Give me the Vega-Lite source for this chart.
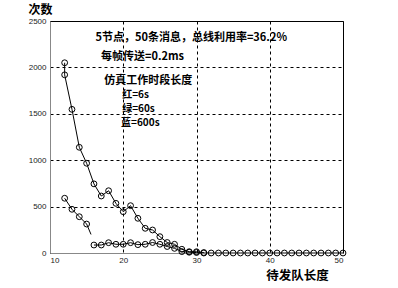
{
"$schema": "https://vega.github.io/schema/vega-lite/v6.json",
"width": 293, "height": 232,
"autosize": {"type": "none"},
"padding": {"left": 50, "top": 21, "right": 55, "bottom": 35},
"background": "white",
"config": {
  "view": {"stroke": "black", "strokeWidth": 1},
  "axis": {"labelFont": "Liberation Sans", "labelFontSize": 8, "labelColor": "#222", "ticks": false, "domainColor": "#888", "grid": true, "gridColor": "#000", "gridDash": [3, 3], "gridWidth": 1, "gridOpacity": 1,
    "titleFont": "Noto Sans CJK SC", "titleFontWeight": "bold", "titleColor": "#000", "format": "d"}
},
"datasets": {
  "series": [
    {"g": "A", "seq": 1, "x": 12, "y": 2050}, {"g": "A", "seq": 2, "x": 12, "y": 1920}, {"g": "A", "seq": 3, "x": 13, "y": 1548},
    {"g": "A", "seq": 4, "x": 14, "y": 1139}, {"g": "A", "seq": 5, "x": 15, "y": 967}, {"g": "A", "seq": 6, "x": 16, "y": 745},
    {"g": "A", "seq": 7, "x": 17, "y": 614}, {"g": "A", "seq": 8, "x": 18, "y": 671}, {"g": "A", "seq": 9, "x": 19, "y": 535},
    {"g": "A", "seq": 10, "x": 20, "y": 445}, {"g": "A", "seq": 11, "x": 21, "y": 510}, {"g": "A", "seq": 12, "x": 22, "y": 374},
    {"g": "A", "seq": 13, "x": 23, "y": 266}, {"g": "A", "seq": 14, "x": 24, "y": 248}, {"g": "A", "seq": 15, "x": 25, "y": 176},
    {"g": "A", "seq": 16, "x": 26, "y": 113}, {"g": "A", "seq": 17, "x": 27, "y": 94}, {"g": "A", "seq": 18, "x": 28, "y": 40},
    {"g": "A", "seq": 19, "x": 29, "y": 14}, {"g": "A", "seq": 20, "x": 30, "y": 14}, {"g": "A", "seq": 21, "x": 31, "y": 5},
    {"g": "B1", "seq": 1, "x": 12, "y": 590}, {"g": "B1", "seq": 2, "x": 13, "y": 471}, {"g": "B1", "seq": 3, "x": 14, "y": 391},
    {"g": "B1", "seq": 4, "x": 15, "y": 312}, {"g": "B1", "seq": 5, "x": 15.6, "y": 200, "kind": "tail"},
    {"g": "B2", "seq": 1, "x": 16, "y": 86}, {"g": "B2", "seq": 2, "x": 17, "y": 86}, {"g": "B2", "seq": 3, "x": 18, "y": 111},
    {"g": "B2", "seq": 4, "x": 19, "y": 94}, {"g": "B2", "seq": 5, "x": 20, "y": 94}, {"g": "B2", "seq": 6, "x": 21, "y": 111},
    {"g": "B2", "seq": 7, "x": 22, "y": 90}, {"g": "B2", "seq": 8, "x": 23, "y": 94}, {"g": "B2", "seq": 9, "x": 24, "y": 113},
    {"g": "B2", "seq": 10, "x": 25, "y": 94}, {"g": "B2", "seq": 11, "x": 26, "y": 70}, {"g": "B2", "seq": 12, "x": 27, "y": 50},
    {"g": "B2", "seq": 13, "x": 28, "y": 15}, {"g": "B2", "seq": 14, "x": 29, "y": 8}, {"g": "B2", "seq": 15, "x": 30, "y": 5},
    {"g": "B2", "seq": 16, "x": 31, "y": 0}, {"g": "B2", "seq": 17, "x": 32, "y": 0}, {"g": "B2", "seq": 18, "x": 33, "y": 0},
    {"g": "B2", "seq": 19, "x": 34, "y": 0}, {"g": "B2", "seq": 20, "x": 35, "y": 0}, {"g": "B2", "seq": 21, "x": 36, "y": 0},
    {"g": "B2", "seq": 22, "x": 37, "y": 0}, {"g": "B2", "seq": 23, "x": 38, "y": 0}, {"g": "B2", "seq": 24, "x": 39, "y": 0},
    {"g": "B2", "seq": 25, "x": 40, "y": 0}, {"g": "B2", "seq": 26, "x": 41, "y": 0}, {"g": "B2", "seq": 27, "x": 42, "y": 0},
    {"g": "B2", "seq": 28, "x": 43, "y": 0}, {"g": "B2", "seq": 29, "x": 44, "y": 0}, {"g": "B2", "seq": 30, "x": 45, "y": 0},
    {"g": "B2", "seq": 31, "x": 46, "y": 0}, {"g": "B2", "seq": 32, "x": 47, "y": 0}, {"g": "B2", "seq": 33, "x": 48, "y": 0},
    {"g": "B2", "seq": 34, "x": 49, "y": 0}, {"g": "B2", "seq": 35, "x": 50, "y": 0}
  ],
  "notes": [
    {"x": 16.2, "y": 2320, "label": "5节点，50条消息，总线利用率=36.2%", "part": "info"},
    {"x": 16.95, "y": 2112, "label": "每帧传送=0.2ms", "part": "info"},
    {"x": 17.4, "y": 1855, "label": "仿真工作时段长度", "part": "info"},
    {"x": 19.85, "y": 1700, "label": "红=6s", "part": "key"},
    {"x": 19.85, "y": 1548, "label": "绿=60s", "part": "key"},
    {"x": 19.7, "y": 1396, "label": "蓝=600s", "part": "key"}
  ]
},
"layer": [
  {
    "data": {"name": "series"},
    "mark": {"type": "line", "color": "black", "strokeWidth": 1, "clip": true},
    "encoding": {
      "x": {"field": "x", "type": "quantitative", "scale": {"domain": [10, 50], "nice": false, "zero": false},
        "axis": {"values": [10, 15, 20, 25, 30, 35, 40, 45, 50], "title": "待发队长度", "titleFontSize": 12.5, "titleAlign": "center", "titleBaseline": "middle", "titleX": 247, "titleY": 22, "labelPadding": 3}},
      "y": {"field": "y", "type": "quantitative", "scale": {"domain": [0, 2500], "nice": false},
        "axis": {"values": [0, 500, 1000, 1500, 2000, 2500], "title": "次数", "titleFontSize": 12, "titleAngle": 0, "titleAlign": "left", "titleBaseline": "middle", "titleX": -22, "titleY": -12, "labelPadding": 4}},
      "detail": {"field": "g"},
      "order": {"field": "seq", "type": "quantitative"}
    }
  },
  {
    "data": {"name": "series"},
    "transform": [{"filter": "datum.kind != 'tail'"}],
    "mark": {"type": "point", "shape": "circle", "filled": false, "color": "black", "strokeWidth": 1, "size": 34, "opacity": 1},
    "encoding": {
      "x": {"field": "x", "type": "quantitative"},
      "y": {"field": "y", "type": "quantitative"}
    }
  },
  {
    "data": {"name": "notes"},
    "transform": [{"filter": "datum.part == 'info'"}],
    "mark": {"type": "text", "align": "left", "baseline": "middle", "font": "Noto Sans CJK SC", "fontWeight": "bold", "fontSize": 11, "color": "black"},
    "encoding": {
      "x": {"field": "x", "type": "quantitative"},
      "y": {"field": "y", "type": "quantitative"},
      "text": {"field": "label"}
    }
  },
  {
    "data": {"name": "notes"},
    "transform": [{"filter": "datum.part == 'key'"}],
    "mark": {"type": "text", "align": "left", "baseline": "middle", "font": "Noto Sans CJK SC", "fontWeight": "bold", "fontSize": 10, "color": "black"},
    "encoding": {
      "x": {"field": "x", "type": "quantitative"},
      "y": {"field": "y", "type": "quantitative"},
      "text": {"field": "label"}
    }
  }
]
}
